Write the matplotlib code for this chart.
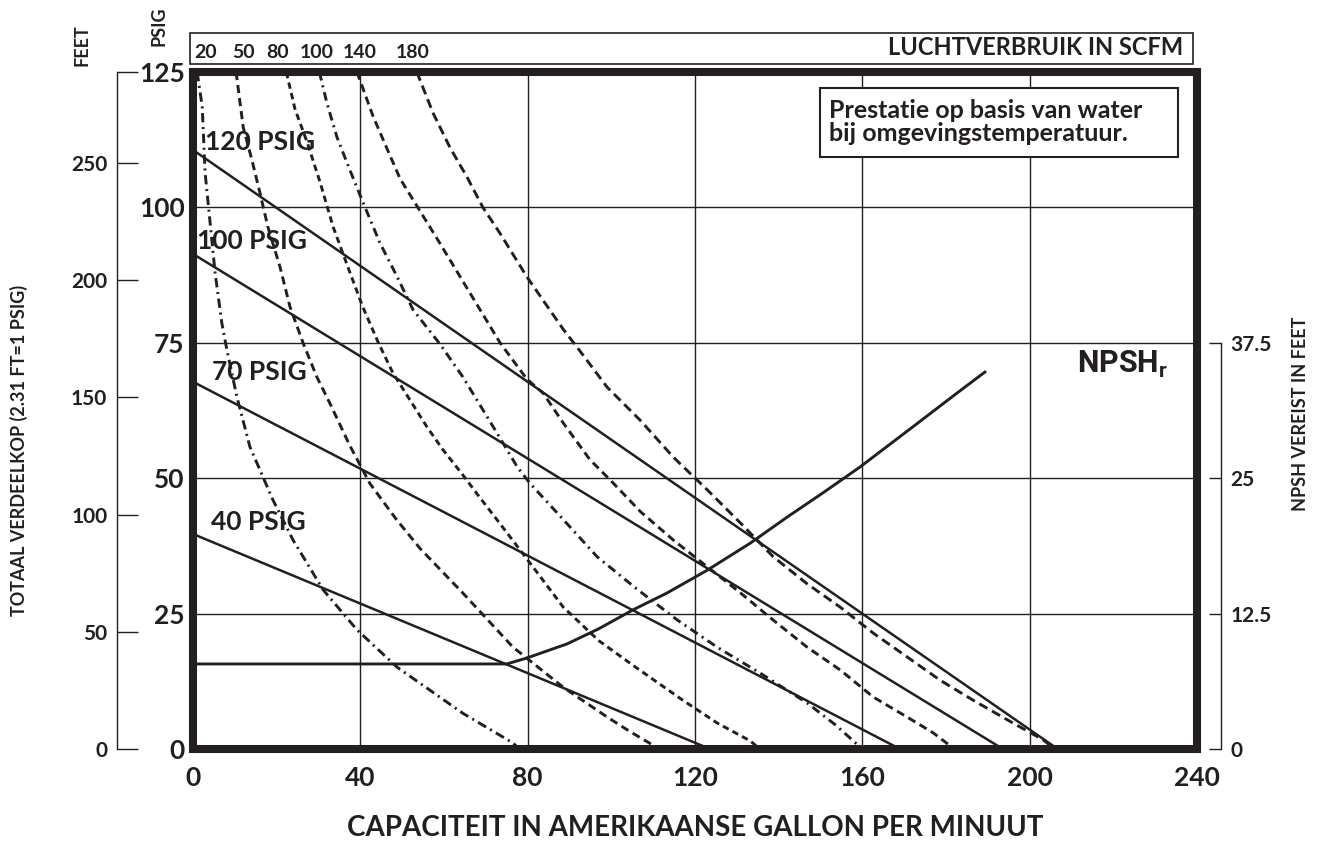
import matplotlib
matplotlib.use("Agg")
import matplotlib.pyplot as plt
from matplotlib.patches import Rectangle
from matplotlib.transforms import blended_transform_factory

plt.rcParams['font.family'] = ['Lato', 'DejaVu Sans']
plt.rcParams['font.weight'] = 'bold'
plt.rcParams['axes.labelweight'] = 'bold'
ink = '#231f20'

# capacity (US GPM) and head (PSIG) axis
gpm_ticks = [0, 40, 80, 120, 160, 200, 240]
psig_ticks = [0, 25, 50, 75, 100, 125]
feet_ticks = [0, 50, 100, 150, 200, 250]
npsh_ticks = [0, 12.5, 25, 37.5]
npsh_tick_labels = ['0', '12.5', '25', '37.5']

# air pressure lines (solid)
p120_x = [0, 206.7]
p120_y = [110.6, 0]
p100_x = [0, 193.6]
p100_y = [91.4, 0]
p70_x = [0, 169.0]
p70_y = [67.8, 0]
p40_x = [0, 123.6]
p40_y = [39.7, 0]
psig_labels = ['120 PSIG', '100 PSIG', '70 PSIG', '40 PSIG']

# air consumption curves (SCFM), dashed
scfm20_x = [1.0, 2.2, 2.9, 4.1, 5.3, 6.9, 8.1, 10.5, 13.6, 19.1, 23.9, 31.1, 39.2, 48.8, 64.5, 76.5, 78.0]
scfm20_y = [125, 118.6, 106.3, 97.1, 87.8, 78.6, 73.7, 65.0, 55.8, 46.0, 38.6, 29.4, 22.0, 15.1, 6.6, 1.1, 0]
scfm50_x = [10.3, 12.0, 14.1, 16.0, 17.9, 20.8, 23.2, 26.3, 29.6, 32.8, 37.5, 42.3, 48.5, 54.3, 64.5, 76.5, 88.5, 99.0, 104.5, 111.5]
scfm50_y = [125, 114.8, 108.7, 102.7, 96.4, 89.0, 81.6, 75.0, 68.7, 63.7, 56.0, 49.0, 42.5, 37.0, 28.8, 18.8, 11.4, 5.9, 3.2, 0]
scfm80_x = [22.3, 24.4, 27.3, 30.4, 33.5, 37.5, 40.6, 44.2, 47.8, 51.9, 55.9, 59.8, 64.5, 68.5, 72.7, 80.6, 88.5, 97.0, 106.0, 117.1, 125.3, 133.2, 135.5]
scfm80_y = [125, 118.1, 112.0, 104.6, 96.4, 88.0, 81.6, 75.2, 69.4, 64.4, 59.5, 55.2, 50.6, 46.5, 42.3, 34.3, 26.2, 20.0, 15.0, 9.0, 4.8, 1.5, 0]
scfm100_x = [30.2, 32.0, 34.4, 37.5, 40.6, 44.7, 48.8, 52.6, 59.0, 64.5, 67.9, 72.7, 77.5, 80.6, 88.0, 96.6, 106.0, 115.8, 125.3, 135.6, 146.8, 153.5, 160.0]
scfm100_y = [125, 119.3, 113.0, 106.9, 101.0, 93.4, 87.2, 81.1, 74.8, 68.7, 64.4, 58.3, 52.1, 49.0, 42.8, 35.5, 29.6, 23.8, 18.8, 14.0, 8.5, 4.5, 0]
scfm140_x = [39.2, 43.0, 46.4, 49.5, 53.5, 59.0, 66.2, 73.4, 79.8, 83.7, 88.5, 94.9, 99.7, 107.0, 114.8, 123.0, 130.9, 138.7, 146.8, 154.7, 162.6, 170.7, 176.9, 182.0]
scfm140_y = [125, 116.9, 110.8, 105.3, 100.3, 93.4, 84.2, 75.0, 68.3, 65.7, 60.2, 53.4, 49.7, 43.8, 38.6, 33.6, 28.8, 23.8, 18.8, 14.6, 9.6, 5.9, 3.0, 0]
scfm180_x = [53.5, 57.4, 61.4, 65.5, 69.3, 73.4, 79.8, 84.0, 88.5, 91.8, 99.0, 106.9, 114.8, 123.0, 130.9, 138.7, 146.8, 154.7, 162.6, 170.7, 178.6, 186.5, 196.0, 203.2, 206.0]
scfm180_y = [125, 117.4, 111.1, 105.6, 100.0, 95.2, 87.2, 82.5, 77.5, 74.2, 66.8, 60.7, 53.9, 47.8, 41.7, 35.5, 30.5, 26.2, 21.4, 17.0, 12.7, 9.0, 4.8, 1.7, 0]
scfm_labels = ['20', '50', '80', '100', '140', '180']

# NPSH required (feet)
npsh_x = [0, 75.0, 79.8, 89.4, 97.0, 105.2, 113.3, 122.9, 133.2, 142.0, 150.6, 159.5, 172.1, 182.6, 189.3]
npsh_ft = [7.85, 7.85, 8.4, 9.7, 11.1, 12.85, 14.4, 16.5, 19.0, 21.4, 23.65, 26.05, 29.75, 32.85, 34.8]

fig = plt.figure(figsize=(13.22, 8.43), dpi=100)
ax = fig.add_axes([193/1322, 94/843, 1004/1322, 677/843])

ax.set_xlim(0, 240)
ax.set_ylim(0, 125)
ax.set_xticks(gpm_ticks)
ax.set_yticks(psig_ticks)
ax.grid(True, color=ink, lw=1.0)
ax.set_axisbelow(True)
for sp in ax.spines.values():
    sp.set_linewidth(5.8)
    sp.set_color(ink)
    sp.set_zorder(10)

lw_solid = 1.8
for xs, ys in [(p120_x, p120_y), (p100_x, p100_y), (p70_x, p70_y), (p40_x, p40_y)]:
    ax.plot(xs, ys, color=ink, lw=lw_solid, solid_capstyle='butt')

scfm_curves = [(scfm20_x, scfm20_y, (0, (3.2, 1.6, 0.7, 1.6))),
               (scfm50_x, scfm50_y, (0, (2.8, 1.7))),
               (scfm80_x, scfm80_y, (0, (2.2, 1.5))),
               (scfm100_x, scfm100_y, (0, (3.0, 1.7, 0.7, 1.7))),
               (scfm140_x, scfm140_y, (0, (2.8, 1.7))),
               (scfm180_x, scfm180_y, (0, (3.2, 1.8)))]
for xs, ys, ls in scfm_curves:
    ax.plot(xs, ys, color=ink, lw=2.1, linestyle=ls)

label_pos = [(2.9, 112.1), (1.0, 93.8), (4.5, 69.6), (4.3, 41.9)]
for (lx, ly), txt in zip(label_pos, psig_labels):
    ax.text(lx, ly, txt, fontsize=19, fontweight='bold', color=ink, va='center', ha='left')

ax.text(211.3, 71, r'NPSH$_{\mathregular{r}}$', fontsize=22, fontweight='bold', color=ink,
        va='center', family=['DejaVu Sans Condensed', 'Roboto', 'DejaVu Sans'])

# note box
ax.add_patch(Rectangle((149.9, 109.3), 85.6, 12.7, facecolor='white', edgecolor=ink,
                       lw=1.5, zorder=5))
ax.text(152, 115.7, 'Prestatie op basis van water\nbij omgevingstemperatuur.',
        fontsize=18, fontweight='bold', color=ink, va='center', ha='left',
        linespacing=1.0, zorder=6)

# air consumption header box
ax.add_patch(Rectangle((-0.003, 1.0118), 0.999, 0.0458, transform=ax.transAxes,
                       fill=False, edgecolor=ink, lw=1.2, clip_on=False))
trans = blended_transform_factory(ax.transData, ax.transAxes)
label_x = [2.9, 12.0, 20.3, 29.6, 39.9, 52.4]
for lx, txt in zip(label_x, scfm_labels):
    ax.text(lx, 1.0295, txt, transform=trans, fontsize=14, fontweight='bold', color=ink,
            ha='center', va='center')
ax.text(0.986, 1.036, 'LUCHTVERBRUIK IN SCFM', transform=ax.transAxes,
        fontsize=17, fontweight='bold', color=ink, ha='right', va='center')

ax.tick_params(axis='both', length=0, labelsize=19, colors=ink)
ax.tick_params(axis='x', pad=12)
ax.tick_params(axis='y', pad=6)
ax.set_xlabel('CAPACITEIT IN AMERIKAANSE GALLON PER MINUUT', fontsize=20,
              fontweight='bold', color=ink, labelpad=18)

# feet scale on the left
ax_ft = ax.twinx()
for name in ['top', 'bottom', 'right']:
    ax_ft.spines[name].set_visible(False)
ax_ft.spines['left'].set_visible(True)
ax_ft.spines['left'].set_position(('axes', -0.0757))
ax_ft.spines['left'].set_linewidth(1.0)
ax_ft.spines['left'].set_color(ink)
ax_ft.yaxis.tick_left()
ax_ft.set_ylim(0, 125 * 2.31)
ax_ft.spines['left'].set_bounds(0, 125 * 2.31)
ax_ft.set_yticks(feet_ticks)
ax_ft.set_yticks([125 * 2.31], minor=True)
ax_ft.tick_params(axis='y', which='both', direction='in', length=15, width=1.0,
                  labelsize=15, pad=7, colors=ink)

# NPSH scale on the right
ax_np = ax.twinx()
for name in ['top', 'bottom', 'left']:
    ax_np.spines[name].set_visible(False)
ax_np.spines['right'].set_position(('axes', 1.0239))
ax_np.spines['right'].set_linewidth(1.0)
ax_np.spines['right'].set_color(ink)
ax_np.set_ylim(0, 62.5)
ax_np.spines['right'].set_bounds(0, 37.5)
ax_np.set_yticks(npsh_ticks)
ax_np.set_yticklabels(npsh_tick_labels)
ax_np.tick_params(axis='y', direction='in', length=9, width=1.0, labelsize=15,
                  pad=7, colors=ink)
ax_np.plot(npsh_x, npsh_ft, color=ink, lw=2.1)

for t in ax.get_xticklabels() + ax.get_yticklabels() + ax_ft.get_yticklabels() + ax_np.get_yticklabels():
    t.set_fontweight('bold')

fig.text(19/1322, 1 - 450/843, 'TOTAAL VERDEELKOP (2.31 FT=1 PSIG)', rotation=90,
         fontsize=13, fontweight='bold', color=ink, ha='center', va='center')
fig.text(1300/1322, 1 - 414/843, 'NPSH VEREIST IN FEET', rotation=90,
         fontsize=13, fontweight='bold', color=ink, ha='center', va='center')
fig.text(82/1322, 1 - 45/843, 'FEET', rotation=90, fontsize=13, fontweight='bold',
         color=ink, ha='center', va='center')
fig.text(159/1322, 1 - 26/843, 'PSIG', rotation=90, fontsize=13, fontweight='bold',
         color=ink, ha='center', va='center')

fig.savefig('out.png', dpi=100)
